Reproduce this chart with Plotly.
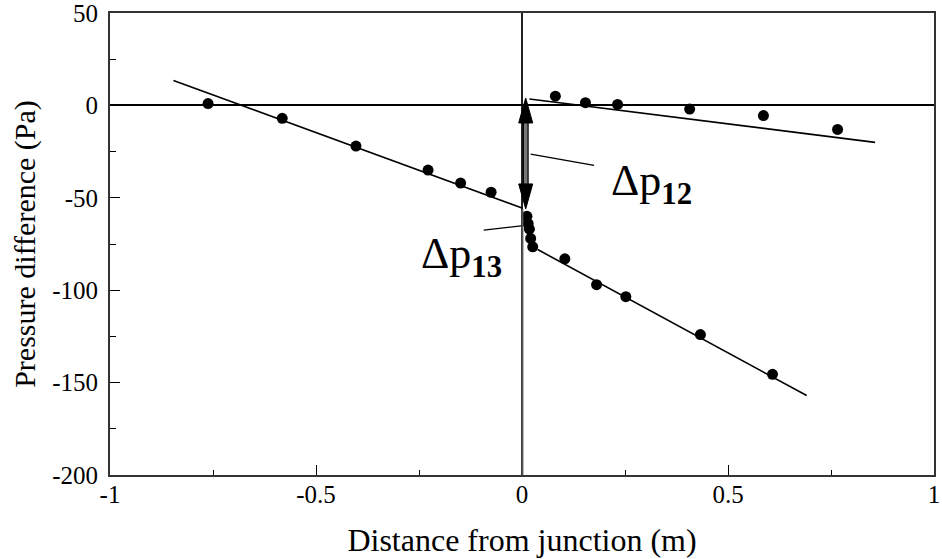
import plotly.graph_objects as go

# Measured points: upstream branch (x<0)
left_x = [-0.762, -0.582, -0.403, -0.228, -0.149, -0.075]
left_y = [1, -7, -22, -35, -42, -47]

# Downstream branch 2 (upper, x>0)
up_x = [0.081, 0.154, 0.232, 0.407, 0.586, 0.766]
up_y = [5, 1.5, 0.5, -2, -5.5, -13]

# Downstream branch 3 (lower, x>0)
low_x = [0.012, 0.015, 0.018, 0.021, 0.026, 0.104, 0.181, 0.252, 0.433, 0.608]
low_y = [-60, -64, -67, -72, -76.5, -83, -97, -103.5, -124, -145.5]

# Fitted lines (end points)
fit_left_x = [-0.846, 0.0]
fit_left_y = [13.5, -55.5]
fit_up_x = [0.018, 0.857]
fit_up_y = [3.5, -20]
fit_low_x = [0.038, 0.691]
fit_low_y = [-78, -157]

x_ticks = [-1, -0.5, 0, 0.5, 1]
x_labels = ["-1", "-0.5", "0", "0.5", "1"]
y_ticks = [50, 0, -50, -100, -150, -200]
y_labels = ["50", "0", "-50", "-100", "-150", "-200"]

FONT = "Times New Roman"

fig = go.Figure()

for fx, fy in [(fit_left_x, fit_left_y), (fit_up_x, fit_up_y), (fit_low_x, fit_low_y)]:
    fig.add_trace(go.Scatter(x=fx, y=fy, mode="lines",
                             line=dict(color="black", width=1.6),
                             showlegend=False, hoverinfo="skip"))

for px, py in [(left_x, left_y), (up_x, up_y), (low_x, low_y)]:
    fig.add_trace(go.Scatter(x=px, y=py, mode="markers",
                             marker=dict(color="black", size=11),
                             showlegend=False))

# Gray lower part of the junction line
fig.add_shape(type="line", x0=0.001, x1=0.001, y0=-56, y1=-200,
              line=dict(color="#555555", width=2))

# Double-headed arrow for delta p12
AX = 0.009
arrow_top, arrow_bot = 4, -56
head_len, head_half = 13.5, 0.017
fig.add_shape(type="line", x0=AX, x1=AX, y0=arrow_top - head_len, y1=arrow_bot + head_len,
              line=dict(color="black", width=6), layer="above")
fig.add_shape(type="line", x0=AX, x1=AX, y0=arrow_top - head_len, y1=arrow_bot + head_len,
              line=dict(color="#777777", width=3.5), layer="above")
fig.add_shape(type="path",
              path=f"M {AX} {arrow_top} L {AX-head_half} {arrow_top-head_len} L {AX+head_half} {arrow_top-head_len} Z",
              fillcolor="black", line=dict(color="black", width=1), layer="above")
fig.add_shape(type="path",
              path=f"M {AX} {arrow_bot} L {AX-head_half} {arrow_bot+head_len} L {AX+head_half} {arrow_bot+head_len} Z",
              fillcolor="black", line=dict(color="black", width=1), layer="above")

# Leader lines
fig.add_shape(type="line", x0=0.021, y0=-26.4, x1=0.175, y1=-32.5,
              line=dict(color="black", width=1.3))
fig.add_shape(type="line", x0=-0.093, y0=-67.5, x1=-0.002, y1=-65.2,
              line=dict(color="black", width=1.3))

fig.add_annotation(x=0.21, y=-42, xref="x", yref="y", xanchor="left", yanchor="middle",
                   text="Δp<sub><b>12</b></sub>", showarrow=False,
                   font=dict(family=FONT, size=44, color="black"))
fig.add_annotation(x=-0.25, y=-82, xref="x", yref="y", xanchor="left", yanchor="middle",
                   text="Δp<sub><b>13</b></sub>", showarrow=False,
                   font=dict(family=FONT, size=44, color="black"))

fig.update_xaxes(range=[-1, 1], tickvals=x_ticks, ticktext=x_labels,
                 ticks="inside", ticklen=10, tickcolor="black", tickwidth=1,
                 minor=dict(dtick=0.25, ticks="inside", ticklen=5, tickcolor="black"),
                 showline=True, linecolor="#333333", linewidth=2, mirror=True,
                 showgrid=False, zeroline=True, zerolinecolor="#222222", zerolinewidth=1.5,
                 tickfont=dict(family=FONT, size=25, color="black"),
                 ticklabeloverflow="allow",
                 title=dict(text="Distance from junction (m)", standoff=22,
                            font=dict(family=FONT, size=32, color="black")),
                 automargin=False)
try:
    fig.update_xaxes(ticklabelstandoff=-4)
except Exception:
    pass
fig.update_yaxes(range=[-200, 50], tickvals=y_ticks, ticktext=y_labels,
                 ticks="inside", ticklen=10, tickcolor="black", tickwidth=1,
                 minor=dict(dtick=25, ticks="inside", ticklen=6, tickcolor="black"),
                 showline=True, linecolor="#333333", linewidth=2, mirror=True,
                 showgrid=False, zeroline=True, zerolinecolor="black", zerolinewidth=1.5,
                 tickfont=dict(family=FONT, size=25, color="black"),
                 ticklabeloverflow="allow",
                 ticklabelstandoff=5,
                 title=dict(text="Pressure difference (Pa)", standoff=8,
                            font=dict(family=FONT, size=30, color="black")),
                 automargin=False)

fig.update_layout(width=942, height=559, margin=dict(l=110, r=8, t=13, b=84),
                  font=dict(family=FONT),
                  plot_bgcolor="white", paper_bgcolor="white", showlegend=False)

fig.write_html("out.html")
